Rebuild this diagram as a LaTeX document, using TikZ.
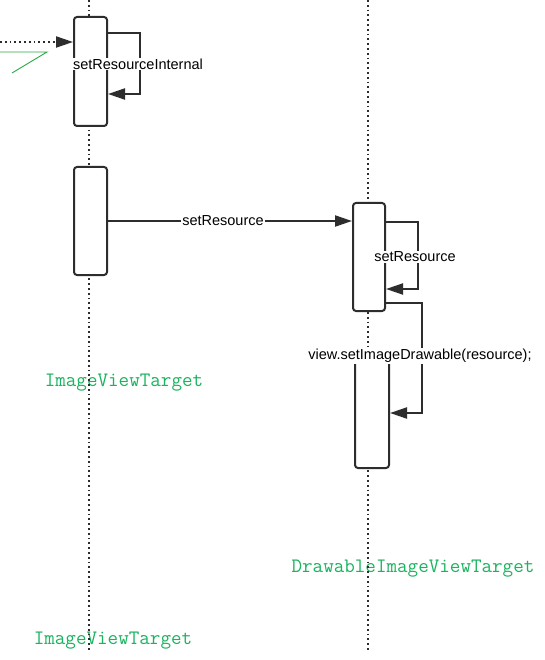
\documentclass[tikz,border=0pt]{standalone}
\usepackage{fontspec}
\setmainfont{Liberation Sans}
\usetikzlibrary{arrows.meta}
\definecolor{ink}{RGB}{45,45,45}
\definecolor{lbl}{RGB}{25,180,95}
\definecolor{gline}{RGB}{40,170,70}
\begin{document}
\begin{tikzpicture}[x=1pt,y=-1pt,
  act/.style={draw=ink, line width=2pt, rounded corners=3pt, fill=white, inner sep=0pt},
  life/.style={draw=ink, line width=1.6pt, dash pattern=on 1.8pt off 3pt},
  msg/.style={draw=ink, line width=2pt, -{Triangle[length=17pt,width=11pt]}},
  dmsg/.style={msg, dash pattern=on 1.8pt off 3pt},
  lab/.style={fill=white, inner sep=1pt, font=\fontsize{14.5}{16}\selectfont, text=black},
  gtxt/.style={font=\ttfamily\fontsize{20.5}{22}\selectfont, text=lbl, inner sep=0pt},
  greenline/.style={draw=gline, line width=0.9pt}]
\useasboundingbox (0,0) rectangle (544,660);
\fill[white] (0,0) rectangle (544,660);

% green class texts
\node[gtxt] (g1) at (124,383) {ImageViewTarget};
\node[gtxt] (g2) at (413,569) {DrawableImageViewTarget};
\node[gtxt] (g3) at (113,641) {ImageViewTarget};

% lifelines
\coordinate (l1t) at (89,0);
\coordinate (l1b) at (89,652);
\coordinate (l2t) at (368,0);
\coordinate (l2b) at (368,652);
\draw[life] (l1t) -- (l1b);
\draw[life] (l2t) -- (l2b);

% activation boxes
\node[act, minimum width=33pt, minimum height=109pt, anchor=north west] (b1) at (73,16) {};
\node[act, minimum width=33pt, minimum height=108pt, anchor=north west] (b2) at (73,166) {};
\node[act, minimum width=32pt, minimum height=108pt, anchor=north west] (b3) at (352,202) {};
\node[act, minimum width=34pt, minimum height=115pt, anchor=north west] (b4) at (354,352) {};

% incoming dotted message and green stroke
\coordinate (src) at (0,42);
\draw[dmsg] (src) -- (b1.west |- src);
\coordinate (ga) at (0,52);
\coordinate (gb) at (47,52);
\coordinate (gc) at (12,73);
\draw[greenline] (ga) -- (gb) -- (gc);

% self call on b1
\draw[msg] ([yshift=-17pt]b1.north east) -- ++(32,0) |- ([yshift=-78pt]b1.north east);
\node[lab] (t1) at (138,64) {setResourceInternal};

% b2 -> b3
\coordinate (m) at (0,221);
\draw[msg] (b2.east |- m) -- (b3.west |- m);
\node[lab] (t2) at (223,221) {setResource};

% self call on b3
\draw[msg] ([yshift=-20pt]b3.north east) -- ++(32,0) |- ([yshift=-87pt]b3.north east);
\node[lab] (t3) at (415,257) {setResource};

% b3 -> b4
\draw[msg] ([yshift=-101pt]b3.north east) -- ++(36,0) |- ([yshift=-61pt]b4.north east);
\node[lab] (t4) at (420,356) {view.setImageDrawable(resource);};
\end{tikzpicture}
\end{document}
